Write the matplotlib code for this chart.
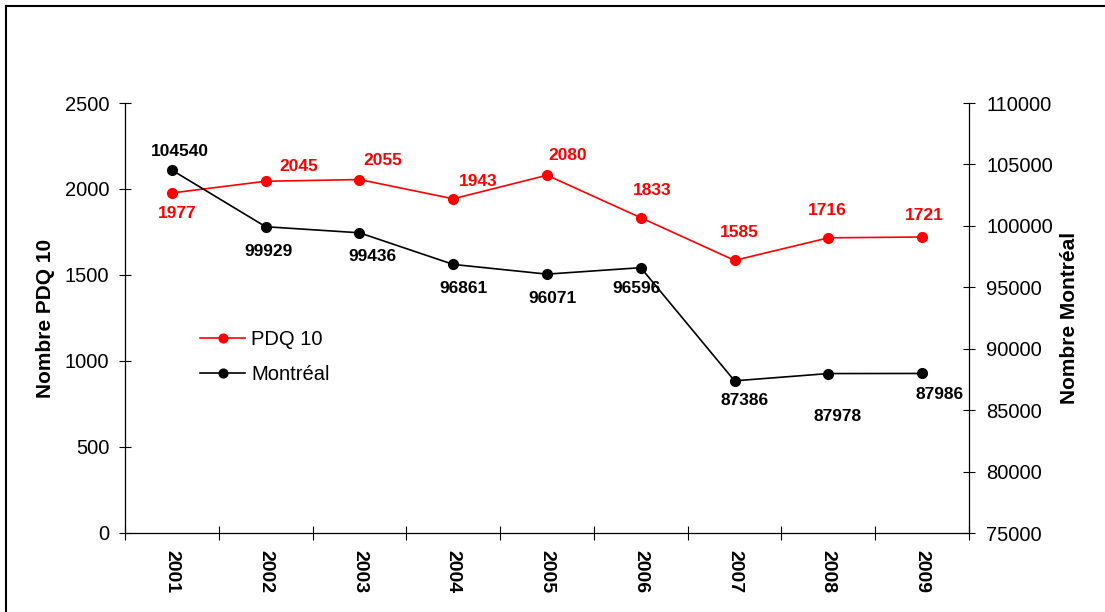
import matplotlib.pyplot as plt
from matplotlib.lines import Line2D

plt.rcParams['font.family'] = ['Liberation Sans', 'DejaVu Sans']

years = ['2001', '2002', '2003', '2004', '2005', '2006', '2007', '2008', '2009']
pdq10 = [1977, 2045, 2055, 1943, 2080, 1833, 1585, 1716, 1721]
montreal = [104540, 99929, 99436, 96861, 96071, 96596, 87386, 87978, 87986]

# label offsets (pixels) relative to each point
pdq_off = [(5, -21), (33, 15), (23, 19), (25, 17), (21, 20), (11, 27), (5, 28), (-1, 27), (2, 21)]
mtl_off = [(8, 19), (3, -25), (13, -24), (10, -24), (5, -24), (-4, -21), (10, -20), (9, -43), (17, -21)]

RED = '#ff0000'
x = list(range(len(years)))

fig = plt.figure(figsize=(11.05, 6.12), dpi=100)
ax = fig.add_axes([125 / 1105, 1 - 533 / 612, (969 - 125) / 1105, (533 - 103) / 612])
ax2 = ax.twinx()

ax.plot(x, pdq10, color=RED, lw=1.2, marker='o', ms=7, label='PDQ 10', zorder=3)
ax2.plot(x, montreal, color='black', lw=1.2, marker='o', ms=7, label='Montréal', zorder=3)

for xi, v, (dx, dy) in zip(x, pdq10, pdq_off):
    ax.annotate(str(v), (xi, v), xytext=(dx, dy), textcoords='offset pixels',
                ha='center', va='center', color=RED, fontsize=12.5, fontweight='bold')
for xi, v, (dx, dy) in zip(x, montreal, mtl_off):
    ax2.annotate(str(v), (xi, v), xytext=(dx, dy), textcoords='offset pixels',
                 ha='center', va='center', color='black', fontsize=12.5, fontweight='bold')

ax.set_xlim(-0.5, len(years) - 0.5)
ax.set_ylim(0, 2500)
ax.set_yticks(range(0, 2501, 500))
ax2.set_ylim(75000, 110000)
ax2.set_yticks(range(75000, 110001, 5000))

# category boundaries as major ticks, labels on minor ticks
ax.set_xticks([i - 0.5 for i in range(len(years) + 1)])
ax.set_xticklabels([])
ax.set_xticks(x, minor=True)
ax.set_xticklabels(years, minor=True, rotation=-90, fontsize=14, fontweight='bold')
ax.tick_params(axis='x', which='major', direction='inout', length=9.5, width=0.8)
ax.tick_params(axis='x', which='minor', length=0, pad=12)

ax.tick_params(axis='y', direction='inout', length=8.6, width=0.8, labelsize=14.5, pad=7)
ax2.tick_params(axis='y', direction='inout', length=8.6, width=0.8, labelsize=14.5, pad=8)

for a in (ax, ax2):
    a.spines['top'].set_visible(False)
    for s in a.spines.values():
        s.set_linewidth(0.9)
ax2.spines['left'].set_visible(False)
ax2.spines['bottom'].set_visible(False)
ax.spines['right'].set_visible(False)

ax.set_ylabel('Nombre PDQ 10', fontsize=15, fontweight='bold', labelpad=7)
ax2.set_ylabel('Nombre Montréal', fontsize=15, fontweight='bold', labelpad=5)

h1, l1 = ax.get_legend_handles_labels()
h2, l2 = ax2.get_legend_handles_labels()
fig.legend(h1 + h2, l1 + l2, loc='upper left', bbox_to_anchor=(200 / 1105, 1 - 330 / 612),
           frameon=False, fontsize=14.5, handlelength=2.25, handletextpad=0.3,
           labelspacing=0.78, borderpad=0, borderaxespad=0, markerscale=0.9)

# outer frame (top and left edges visible)
fig.add_artist(Line2D([5.5 / 1105, 1], [1 - 6 / 612, 1 - 6 / 612], color='black', lw=1.5,
                      transform=fig.transFigure))
fig.add_artist(Line2D([5.5 / 1105, 5.5 / 1105], [0, 1 - 6 / 612], color='black', lw=1.5,
                      transform=fig.transFigure))

fig.savefig('out.png', dpi=100)
